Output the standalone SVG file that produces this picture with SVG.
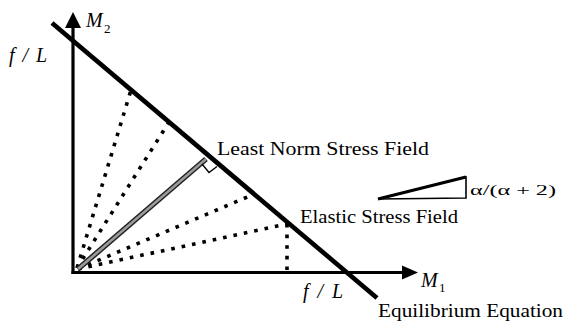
<svg xmlns="http://www.w3.org/2000/svg" width="566" height="324" viewBox="0 0 566 324">
<style>
.ax{stroke:#000;stroke-width:3.2;fill:none}
.eq{stroke:#000;stroke-width:4.6;fill:none;stroke-linecap:butt}
.dot{stroke:#000;stroke-width:3.6;fill:none;stroke-dasharray:3.6 7}
.t{font-family:"Liberation Serif","Times New Roman",serif;fill:#000}
.it{font-style:italic}
</style>
<rect width="566" height="324" fill="#fff"/>
<g id="connectors">
<g id="dotted-fields">
<line class="dot" x1="77" y1="268" x2="131" y2="90"/>
<line class="dot" x1="77" y1="268" x2="169" y2="122"/>
<line class="dot" x1="78" y1="269" x2="252" y2="195"/>
<line class="dot" x1="78" y1="269" x2="287" y2="224"/>
<line class="dot" x1="287" y1="224" x2="287" y2="271"/>
</g>
<g id="least-norm-line">
<line x1="78" y1="269" x2="206" y2="159" stroke="#222" stroke-width="5.5"/>
<line x1="78" y1="269" x2="206" y2="159" stroke="#9a9a9a" stroke-width="2.6"/>
<polyline points="202,164 209,172.5 217,166.5" fill="none" stroke="#000" stroke-width="1.4"/>
</g>
<g id="equilibrium-line">
<line class="eq" x1="52" y1="23" x2="377" y2="298"/>
</g>
</g>
<g id="axis-m2">
<line class="ax" x1="73" y1="274" x2="73" y2="26"/>
<polygon points="73,12 65,28 81,28" fill="#000"/>
</g>
<g id="axis-m1">
<line class="ax" x1="71.5" y1="272.5" x2="404" y2="272.5"/>
<polygon points="418,272.5 402,265.5 402,279.5" fill="#000"/>
</g>
<g id="ratio-triangle">
<polygon points="378,199 466,177 466,198" fill="none" stroke="#000" stroke-width="1.6" stroke-linejoin="miter"/>
<line x1="378" y1="199" x2="466" y2="177" stroke="#000" stroke-width="3"/>
</g>
<g id="labels">
<text class="t it" x="9" y="62" font-size="20" textLength="38" lengthAdjust="spacing">f / L</text>
<text class="t it" x="86" y="27" font-size="20">M</text>
<text class="t" x="104" y="33" font-size="13">2</text>
<text class="t it" x="303" y="298" font-size="20" textLength="40" lengthAdjust="spacing">f / L</text>
<text class="t it" x="421" y="287" font-size="20">M</text>
<text class="t" x="439" y="292" font-size="13">1</text>
<text class="t" x="217" y="155" font-size="18.5" textLength="212" lengthAdjust="spacingAndGlyphs">Least Norm Stress Field</text>
<text class="t" x="300" y="223" font-size="18.5" textLength="158" lengthAdjust="spacingAndGlyphs">Elastic Stress Field</text>
<text class="t" x="378" y="317" font-size="19" textLength="185" lengthAdjust="spacingAndGlyphs">Equilibrium Equation</text>
<text class="t" x="470" y="195" font-size="15" textLength="86" lengthAdjust="spacingAndGlyphs">α/(α + 2)</text>
</g>
</svg>
